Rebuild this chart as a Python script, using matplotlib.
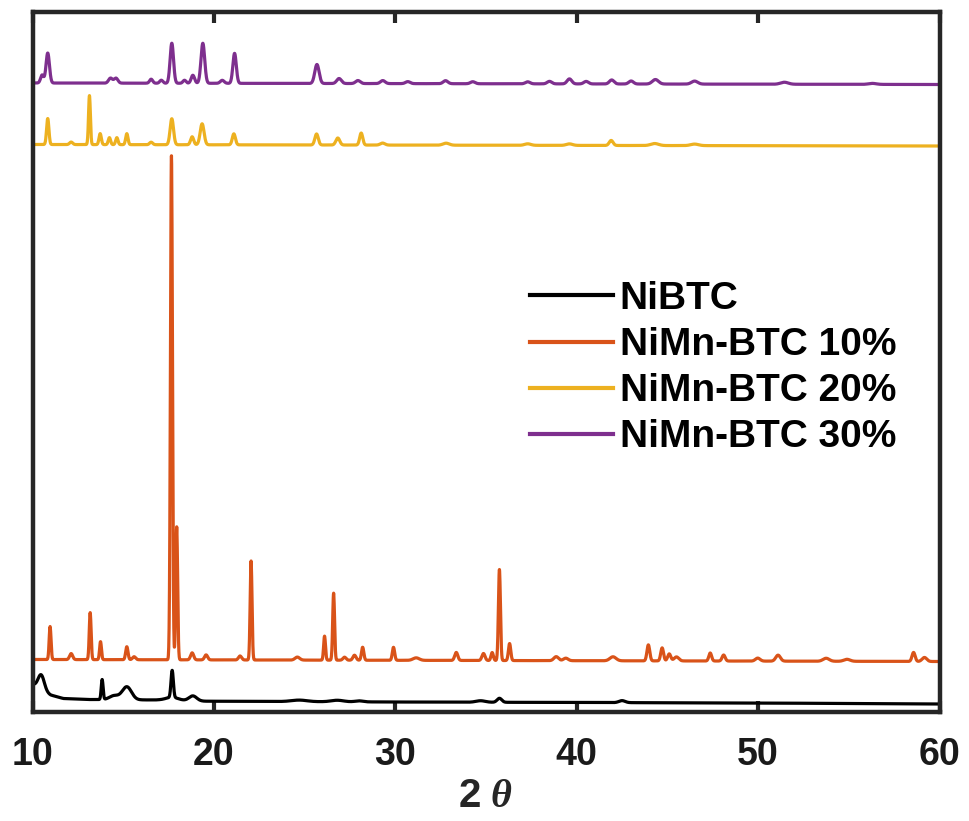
import numpy as np
import matplotlib
matplotlib.use("Agg")
import matplotlib.pyplot as plt

# ---------------- data ----------------
x_ticks = [10, 20, 30, 40, 50, 60]
labels = ["NiBTC", "NiMn-BTC 10%", "NiMn-BTC 20%", "NiMn-BTC 30%"]
colors = ["#000000", "#D95319", "#EDB120", "#7E2F8E"]

# NiBTC: baseline anchors (2theta, intensity) and peaks
nibtc_base_x = [10.0, 10.5, 11.0, 11.7, 13.0, 17.0, 19.5, 30.0, 40.0, 50.0, 60.0]
nibtc_base_y = [28.0, 22.0, 17.0, 13.5, 12.5, 12.0, 10.8, 10.0, 9.5, 9.0, 8.0]
nibtc_pos = [10.48, 13.84, 14.5, 15.2, 17.70, 17.7, 18.84, 24.7, 26.8, 28.0, 34.7, 35.74, 42.5]
nibtc_hgt = [15.0, 20.0, 4.0, 13.0, 27.0, 3.0, 5.0, 1.5, 1.5, 1.0, 1.5, 4.0, 2.0]
nibtc_wid = [0.40, 0.12, 0.60, 0.60, 0.15, 0.80, 0.50, 1.00, 0.80, 0.50, 0.60, 0.30, 0.40]

# NiMn-BTC 10%
mn10_base_x = [10.0, 60.0]
mn10_base_y = [52.5, 50.5]
mn10_pos = [10.97, 12.13, 13.18, 13.75, 15.2, 15.6, 17.66, 17.95, 18.8, 19.57, 21.44,
            22.05, 24.6, 26.1, 26.6, 27.2, 27.75, 28.2, 29.9, 31.15, 33.36, 34.86,
            35.34, 35.74, 36.3, 38.87, 39.4, 42.0, 43.95, 44.71, 45.1, 45.5, 47.36,
            48.1, 49.98, 51.1, 53.75, 54.9, 58.57, 59.17]
mn10_hgt = [33, 6, 47, 18, 13, 3, 504, 133, 7, 5, 4,
            99, 3, 24, 67, 3, 5, 13, 13, 2.5, 8, 7,
            8, 91, 17, 4, 2.5, 4, 16, 13, 7, 4, 8,
            6, 3, 6, 3, 2, 9, 4]
mn10_wid = [0.12, 0.20, 0.12, 0.12, 0.15, 0.20, 0.13, 0.12, 0.20, 0.20, 0.20,
            0.12, 0.30, 0.12, 0.12, 0.20, 0.20, 0.15, 0.15, 0.40, 0.20, 0.20,
            0.15, 0.13, 0.15, 0.30, 0.30, 0.40, 0.18, 0.18, 0.20, 0.30, 0.18,
            0.20, 0.30, 0.30, 0.40, 0.40, 0.20, 0.30]

# NiMn-BTC 20%
mn20_base_x = [10.0, 60.0]
mn20_base_y = [567.5, 566.0]
mn20_pos = [10.84, 12.13, 13.14, 13.73, 14.24, 14.65, 15.2, 16.54, 17.68, 18.8, 19.35,
            21.1, 25.66, 26.83, 28.12, 29.3, 32.8, 37.3, 39.6, 41.9, 44.3, 46.5]
mn20_hgt = [26, 2.5, 49, 11, 7, 7, 11, 2.5, 26, 8, 21,
            11, 11, 7, 12, 2, 2, 1.5, 1.5, 5, 2, 1.5]
mn20_wid = [0.15, 0.20, 0.12, 0.15, 0.15, 0.15, 0.15, 0.20, 0.22, 0.20, 0.25,
            0.20, 0.22, 0.25, 0.20, 0.30, 0.40, 0.40, 0.40, 0.25, 0.50, 0.50]

# NiMn-BTC 30%
mn30_base_x = [10.0, 60.0]
mn30_base_y = [629.0, 627.5]
mn30_pos = [10.53, 10.84, 14.3, 14.6, 16.54, 17.1, 17.68, 18.38, 18.84, 19.39, 20.46,
            21.14, 25.68, 26.9, 27.94, 29.31, 30.69, 32.77, 34.27, 37.3, 38.5, 39.6,
            40.52, 41.93, 43.0, 44.34, 46.5, 51.45, 56.3]
mn30_hgt = [8, 30, 5, 5, 4, 3, 40, 3, 8, 40, 3,
            30, 19, 5, 3, 3, 2, 3, 2, 2, 2.5, 5,
            2.5, 4, 3, 4.5, 3, 2, 1]
mn30_wid = [0.20, 0.22, 0.25, 0.25, 0.20, 0.20, 0.22, 0.20, 0.22, 0.24, 0.25,
            0.22, 0.28, 0.30, 0.30, 0.30, 0.30, 0.30, 0.30, 0.30, 0.30, 0.30,
            0.30, 0.30, 0.30, 0.40, 0.40, 0.50, 0.50]

series = [
    (nibtc_base_x, nibtc_base_y, nibtc_pos, nibtc_hgt, nibtc_wid),
    (mn10_base_x, mn10_base_y, mn10_pos, mn10_hgt, mn10_wid),
    (mn20_base_x, mn20_base_y, mn20_pos, mn20_hgt, mn20_wid),
    (mn30_base_x, mn30_base_y, mn30_pos, mn30_hgt, mn30_wid),
]

# ---------------- profile construction ----------------
two_theta = np.linspace(10, 60, 5001)


def pattern(bx, by, pos, hgt, wid):
    y = np.interp(two_theta, bx, by)
    for c, h, w in zip(pos, hgt, wid):
        y = y + h * np.exp(-4 * np.log(2) * ((two_theta - c) / w) ** 2)
    return y


# ---------------- figure ----------------
plt.rcParams["font.family"] = ["Liberation Sans", "DejaVu Sans"]
plt.rcParams["font.weight"] = "bold"
plt.rcParams["mathtext.fontset"] = "custom"
plt.rcParams["mathtext.bf"] = "Liberation Sans:bold"
plt.rcParams["mathtext.it"] = "Liberation Serif:italic"
plt.rcParams["mathtext.rm"] = "Liberation Sans"

fig = plt.figure(figsize=(9.69, 8.21), dpi=100)
ax = fig.add_axes([32.5 / 969, 1 - 712 / 821, 907 / 969, 700 / 821])

for (bx, by, pos, hgt, wid), lab, col in zip(series, labels, colors):
    ax.plot(two_theta, pattern(bx, by, pos, hgt, wid), color=col, lw=2.3, label=lab)

ax.set_xlim(10, 60)
ax.set_ylim(0, 700)
ax.set_xticks(x_ticks)
ax.set_yticks([])
frame_col = "#262626"
for sp in ax.spines.values():
    sp.set_linewidth(3.2)
    sp.set_color(frame_col)
ax.tick_params(axis="x", direction="in", length=8, width=3, top=True, bottom=True,
               labelsize=27, pad=18, colors=frame_col)
for t in ax.get_xticklabels():
    t.set_fontweight("bold")
    t.set_color("#1a1a1a")

ax.set_xlabel(r"$\mathbf{2}\ \mathit{\theta}$", fontsize=29, labelpad=3, color="#262626")

leg = ax.legend(loc="upper left", bbox_to_anchor=(530 / 969, 1 - 281 / 821),
                bbox_transform=fig.transFigure, frameon=False, fontsize=28,
                handlelength=2.13, handletextpad=0.18, labelspacing=0.26,
                borderpad=0, borderaxespad=0)
for t in leg.get_texts():
    t.set_fontweight("bold")
for l in leg.get_lines():
    l.set_linewidth(3)

fig.savefig("out.png", dpi=100)
